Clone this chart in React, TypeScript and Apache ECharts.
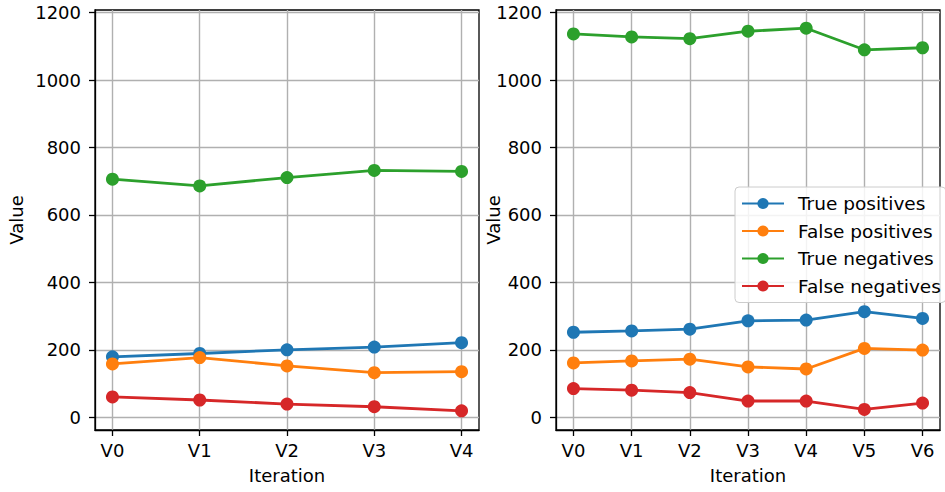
import React, { useEffect, useRef } from "react";
import * as echarts from "echarts";

const leftIterations = ["V0", "V1", "V2", "V3", "V4"];
const rightIterations = ["V0", "V1", "V2", "V3", "V4", "V5", "V6"];
const seriesNames = ["True positives", "False positives", "True negatives", "False negatives"];
const colors = ["#1f77b4", "#ff7f0e", "#2ca02c", "#d62728"];

const leftTP = [179, 189, 200, 208, 221];
const leftFP = [158, 177, 152, 132, 135];
const leftTN = [706, 686, 711, 732, 729];
const leftFN = [60, 51, 39, 31, 19];

const rightTP = [252, 256, 261, 286, 288, 313, 293];
const rightFP = [161, 167, 172, 149, 143, 204, 199];
const rightTN = [1137, 1128, 1123, 1145, 1154, 1090, 1096];
const rightFN = [85, 80, 73, 48, 48, 23, 42];

const yTicks = [0, 200, 400, 600, 800, 1000, 1200];

const FONT = "DejaVu Sans";
const FS = 18;

export default function App() {
  const ref = useRef<HTMLDivElement>(null);
  useEffect(() => {
    if (!ref.current) return;
    const chart = echarts.init(ref.current, undefined, { renderer: "svg" });
    const leftData = [leftTP, leftFP, leftTN, leftFN];
    const rightData = [rightTP, rightFP, rightTN, rightFN];
    const toPts = (arr: number[]) => arr.map((v, i) => [i, v]);

    const xAxisFor = (idx: number, cats: string[]) => {
      const n = cats.length - 1;
      const m = n * 0.05;
      return {
        type: "value" as const,
        gridIndex: idx,
        min: -m,
        max: n + m,
        name: "Iteration",
        nameLocation: "middle" as const,
        nameGap: 36,
        nameMoveOverlap: false,
        nameTextStyle: { fontFamily: FONT, fontSize: FS, color: "#000" },
        axisLine: { show: true, onZero: false, lineStyle: { color: "#000", width: 1.3 } },
        axisTick: {
          show: true,
          length: 6,
          customValues: cats.map((_, i) => i),
          lineStyle: { color: "#000", width: 1.3 },
        },
        axisLabel: {
          customValues: cats.map((_, i) => i),
          formatter: (v: number) => cats[Math.round(v)] ?? "",
          fontFamily: FONT,
          fontSize: FS,
          color: "#000",
          margin: 11,
        },
        splitLine: { show: true, lineStyle: { color: "#b0b0b0", width: 1.4 } },
      };
    };
    const yAxisFor = (idx: number, gap: number) => ({
      type: "value" as const,
      gridIndex: idx,
      min: -38,
      max: 1208,
      name: "Value",
      nameLocation: "middle" as const,
      nameGap: gap,
      nameMoveOverlap: false,
      nameTextStyle: { fontFamily: FONT, fontSize: FS, color: "#000" },
      axisLine: { show: true, onZero: false, lineStyle: { color: "#000", width: 1.3 } },
      axisTick: { show: true, length: 6, customValues: yTicks, lineStyle: { color: "#000", width: 1.3 } },
      axisLabel: {
        customValues: yTicks,
        formatter: (v: number) => String(v),
        fontFamily: FONT,
        fontSize: FS,
        color: "#000",
        margin: 14,
      },
      splitLine: { show: true, lineStyle: { color: "#b0b0b0", width: 1.4 } },
    });

    const mkSeries = (gridIdx: number, data: number[][]) =>
      data.map((arr, k) => ({
        type: "line" as const,
        name: seriesNames[k],
        xAxisIndex: gridIdx,
        yAxisIndex: gridIdx,
        data: toPts(arr),
        symbol: "circle",
        symbolSize: 13,
        lineStyle: { width: 2.8, color: colors[k] },
        itemStyle: { color: colors[k] },
        z: 3,
      }));

    chart.setOption({
      animation: false,
      backgroundColor: "#fff",
      grid: [
        { left: 95, top: 10, width: 384, height: 420, show: true, borderColor: "#000", borderWidth: 1.3 },
        { left: 556, top: 10, width: 384, height: 420, show: true, borderColor: "#000", borderWidth: 1.3 },
      ],
      xAxis: [xAxisFor(0, leftIterations), xAxisFor(1, rightIterations)],
      yAxis: [yAxisFor(0, 70), yAxisFor(1, 54)],
      legend: {
        orient: "vertical",
        left: 735,
        top: 187,
        data: seriesNames,
        itemWidth: 42,
        itemHeight: 14,
        itemGap: 8.5,
        padding: [7, 5, 7, 6],
        backgroundColor: "rgba(255,255,255,0.85)",
        borderColor: "#cccccc",
        borderWidth: 1,
        borderRadius: 4,
        textStyle: { fontFamily: FONT, fontSize: 18.5, color: "#000", padding: [0, 0, 0, 9] },
        z: 10,
      },
      series: [...mkSeries(0, leftData), ...mkSeries(1, rightData)],
    });
    return () => chart.dispose();
  }, []);
  return <div ref={ref} style={{ width: 945, height: 492, position: "absolute", left: 0, top: 0 }} />;
}
